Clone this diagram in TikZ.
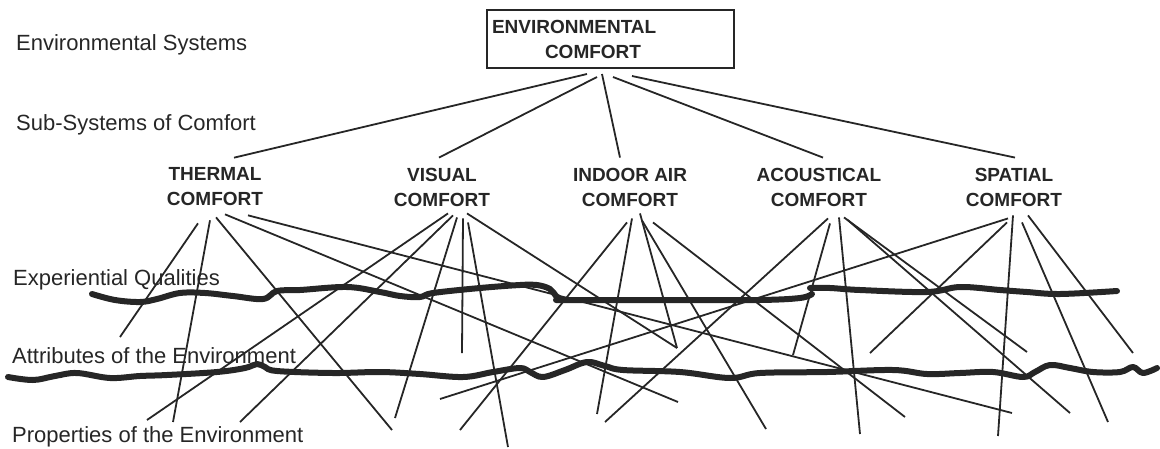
\documentclass[tikz,border=0pt]{standalone}
\usepackage{fontspec}
\setmainfont{Liberation Sans}

\begin{document}
\begin{tikzpicture}[x=1pt,y=-1pt,
	lbl/.style={anchor=base west,inner sep=0,text=black!85,font=\fontsize{22}{26}\selectfont},
	sub/.style={align=center,inner xsep=2pt,inner ysep=10pt,text=black!85,font=\fontsize{19}{25}\selectfont\bfseries},
	link/.style={line width=1.8pt,black!85},
	band/.style={line width=6pt,black!85,line cap=round,line join=round}]
	\useasboundingbox (0,0) rectangle (1160,448);
	% level names
	\node[lbl] (es) at (16,50) {Environmental Systems};
	\node[lbl] (ss) at (16,130) {Sub-Systems of Comfort};
	\node[lbl] (eq) at (13,285) {Experiential Qualities};
	\node[lbl] (ae) at (12,363) {Attributes of the Environment};
	\node[lbl] (pe) at (12,442) {Properties of the Environment};
	% top and sub-systems
	\node[draw,line width=2pt,black!85,align=left,text width=237pt,inner xsep=5pt,minimum height=58pt,
		font=\fontsize{19}{25}\selectfont\bfseries] (env) at (610.5,39) {ENVIRONMENTAL\\\hspace*{53pt}COMFORT};
	\node[sub] (th) at (215,187) {THERMAL\\COMFORT};
	\node[sub] (vi) at (442,187) {VISUAL\\COMFORT};
	\node[sub] (ia) at (630,187) {INDOOR AIR\\COMFORT};
	\node[sub] (ac) at (819,187) {ACOUSTICAL\\COMFORT};
	\node[sub] (sp) at (1014,187) {SPATIAL\\COMFORT};
	\foreach \dx/\dy/\n/\ex in {-23.5/-5/th/19,-13.5/-8/vi/-3,-8.5/-5/ia/-10,2.5/-8/ac/4,21.5/-7/sp/1}
		\draw[link] ([xshift=\dx,yshift=\dy]env.south) -- ([xshift=\ex]\n.north);
	% hand drawn boundaries
	\draw[band] plot[smooth,tension=.6] coordinates {(92,294) (115,300) (140,302) (157,299) (180,293) (205,293)
		(233,296) (263,299) (277,291) (300,290) (347,287) (380,292) (400,296) (420,297) (433,293) (480,288)
		(520,285) (537,285) (550,289) (556,296) (562,300)};
	\draw[band] plot[smooth,tension=.6] coordinates {(556,300) (620,300) (680,300) (760,300) (800,298) (812,294)};
	\draw[band] plot[smooth,tension=.6] coordinates {(810,288) (830,288) (860,290) (927,292) (960,287) (1000,290)
		(1027,292) (1060,294) (1117,291)};
	\draw[band] plot[smooth,tension=.6] coordinates {(8,377) (33,380) (55,376) (77,373) (110,378) (140,376)
		(167,375) (217,372) (245,368) (257,364) (265,367) (277,371) (333,373) (380,372) (420,374) (463,377)
		(493,372) (520,368) (530,372) (543,377) (565,370) (587,362) (605,366) (623,370) (680,372) (730,378)
		(760,373) (827,372) (893,370) (927,374) (960,373) (993,372) (1023,377) (1035,372) (1050,365)
		(1070,368) (1093,372) (1120,372) (1133,367) (1143,373) (1157,368)};
	% free ends
	\coordinate (t1) at (120,337); \coordinate (t2) at (173,422); \coordinate (t3) at (392,430);
	\coordinate (t4) at (678,402); \coordinate (t5) at (1012,413);
	\coordinate (v1) at (147,420); \coordinate (v2) at (240,422); \coordinate (v3) at (395,418);
	\coordinate (v4) at (462,353); \coordinate (v5) at (508,447); \coordinate (v6) at (677,348);
	\coordinate (i1) at (460,430); \coordinate (i2) at (597,414); \coordinate (i3) at (677,348);
	\coordinate (i4) at (766,429); \coordinate (i5) at (905,417);
	\coordinate (a1) at (605,422); \coordinate (a2) at (793,355); \coordinate (a3) at (860,434);
	\coordinate (a4) at (1027,352); \coordinate (a5) at (1070,413);
	\coordinate (s1) at (440,399); \coordinate (s2) at (870,353); \coordinate (s3) at (998,436);
	\coordinate (s4) at (1108,422); \coordinate (s5) at (1133,353);
	% links down
	\foreach \dx/\dy/\e in {-17/-7/t1,-5/-4/t2,1/-1/t3,10/2/t4,33/1/t5}
		\draw[link] ([xshift=\dx,yshift=\dy]th.south) -- (\e);
	\foreach \dx/\dy/\e in {6/3/v1,11/1/v2,15/-1/v3,21/-2/v4,26/-6/v5,25/3/v6}
		\draw[link] ([xshift=\dx,yshift=\dy]vi.south) -- (\e);
	\foreach \dx/\dy/\e in {-3/-6/i1,2/-2/i2,10/3/i3,12/-4/i4,23/-6/i5}
		\draw[link] ([xshift=\dx,yshift=\dy]ia.south) -- (\e);
	\foreach \dx/\dy/\e in {9/-2/a1,11/-7/a2,20/-1/a3,25/-1/a4,28/-3/a5}
		\draw[link] ([xshift=\dx,yshift=\dy]ac.south) -- (\e);
	\foreach \dx/\dy/\e in {-6/-2/s1,-7/-6/s2,-1/1/s3,8/-6/s4,14/1/s5}
		\draw[link] ([xshift=\dx,yshift=\dy]sp.south) -- (\e);
\end{tikzpicture}
\end{document}
